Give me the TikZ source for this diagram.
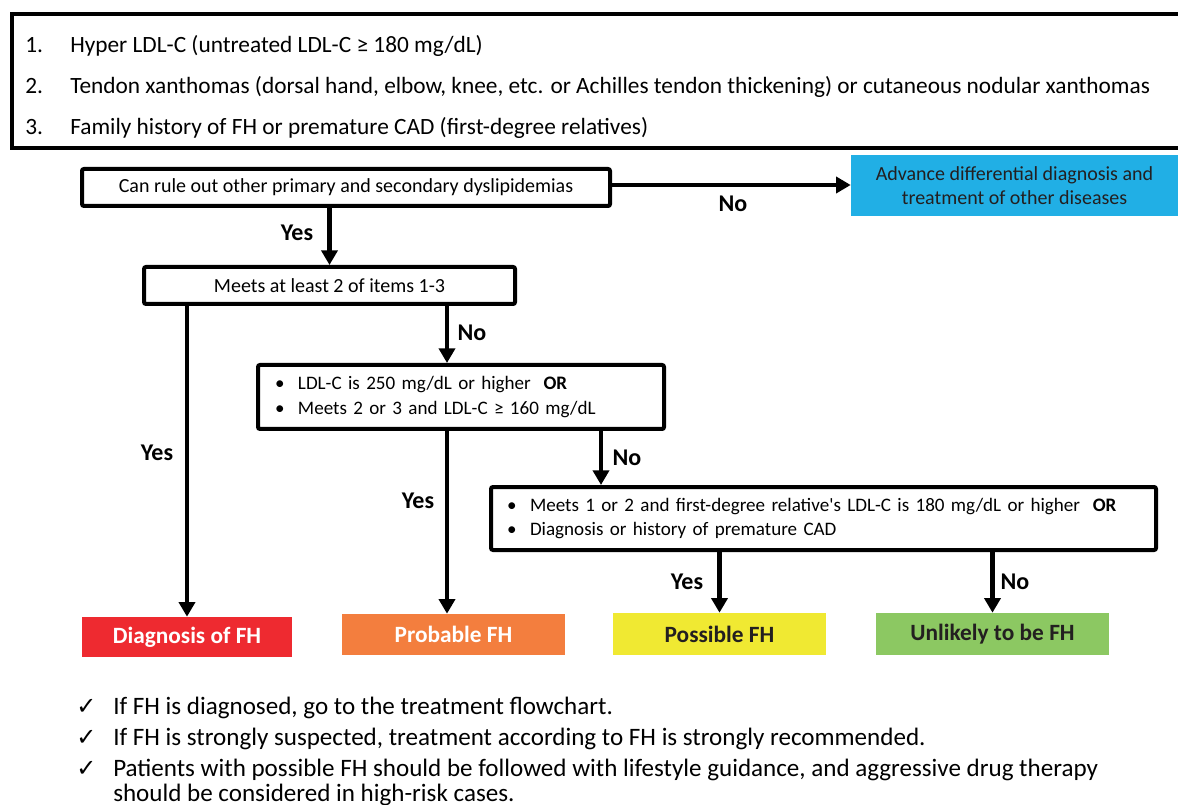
\documentclass[tikz,border=0pt]{standalone}
\usepackage{fontspec}
\setmainfont{Carlito}
\newfontfamily\symfont{DejaVu Sans}
\usetikzlibrary{arrows.meta}
\definecolor{cblue}{HTML}{21AFE5}
\definecolor{cred}{HTML}{EE2A30}
\definecolor{corange}{HTML}{F37E3E}
\definecolor{cyellow}{HTML}{F0E932}
\definecolor{cgreen}{HTML}{8CC862}
\definecolor{cdark}{HTML}{231F20}
\begin{document}
\begin{tikzpicture}[x=0.75pt,y=-0.75pt,
  flowbox/.style={draw,line width=3pt,rounded corners=1.5pt,inner sep=0pt,
    font=\fontsize{15}{18.5}\selectfont},
  listbox/.style={flowbox,font=\fontsize{14.3}{18.5}\selectfont},
  res/.style={inner sep=0pt,font=\fontsize{17.5}{20}\selectfont\bfseries},
  arr/.style={line width=3.6pt,-{Triangle[width=12pt,length=11pt]}},
  lab/.style={font=\fontsize{18}{20}\selectfont\bfseries},
  bigtxt/.style={anchor=base west,inner sep=0pt,font=\fontsize{17.5}{20}\selectfont},
  note/.style={anchor=base west,inner sep=0pt,font=\fontsize{18.8}{22}\selectfont},
  chk/.style={anchor=base west,inner sep=0pt,font=\symfont\fontsize{18}{20}\selectfont},
]
\useasboundingbox (0,0) rectangle (1178,805);
\clip (0,0) rectangle (1178,805);

% criteria box
\draw[line width=3pt] (12,14) rectangle (1200,148);
\node[bigtxt] (n1) at (25,53) {1.};
\node[bigtxt] (t1) at (70,53) {Hyper LDL-C (untreated LDL-C ≥ 180 mg/dL)};
\node[bigtxt] (n2) at (25,94) {2.};
\node[bigtxt] (t2) at (70,94) {Tendon xanthomas (dorsal hand, elbow, knee, etc. or Achilles tendon thickening) or cutaneous nodular xanthomas};
\node[bigtxt] (n3) at (25,135) {3.};
\node[bigtxt] (t3) at (70,135) {Family history of FH or premature CAD (first-degree relatives)};

% flow boxes
\node[flowbox,minimum width=396pt,minimum height=27.75pt] (rule) at (346,187.5)
  {Can rule out other primary and secondary dyslipidemias};
\node[fill=cblue,inner sep=0pt,minimum width=245.25pt,minimum height=45.75pt,align=center,
  text=cdark,font=\fontsize{15}{18}\selectfont] (adv) at (1014.5,185.5)
  {Advance differential diagnosis and\\treatment of other diseases};
\node[flowbox,minimum width=278.25pt,minimum height=27.75pt] (meets) at (329.5,285.5)
  {Meets at least 2 of items 1-3};
\node[listbox,minimum height=48pt,inner xsep=12.75pt,text width=279pt,align=left] (box2) at (461,397)
  {\makebox[17.25pt][l]{•}LDL-C is 250 mg/dL or higher\ \ \textbf{OR}\\
   \makebox[17.25pt][l]{•}Meets 2 or 3 and LDL-C ≥ 160 mg/dL};
\node[listbox,minimum height=47.25pt,inner xsep=12pt,text width=474.75pt,align=left] (box3) at (823.5,518.5)
  {\makebox[17.25pt][l]{•}Meets 1 or 2 and first-degree relative\textquotesingle s LDL-C is 180 mg/dL or higher\ \ \textbf{OR}\\
   \makebox[17.25pt][l]{•}Diagnosis or history of premature CAD};

% results
\node[res,fill=cred,text=white,minimum width=157.5pt,minimum height=30pt] (red) at (187,637) {Diagnosis of FH};
\node[res,fill=corange,text=white,minimum width=167.25pt,minimum height=30.75pt] (orange) at (453.5,634.5) {Probable FH};
\node[res,fill=cyellow,text=cdark,minimum width=159.75pt,minimum height=31.5pt] (yellow) at (719.5,634) {Possible FH};
\node[res,fill=cgreen,text=cdark,minimum width=174.75pt,minimum height=31.5pt] (green) at (992.5,634) {Unlikely to be FH};

% helper coordinates
\coordinate (x447) at (447,0);
\coordinate (x601) at (601,0);
\coordinate (x185) at (0,185);

% connectors
\draw[arr] (rule.east |- x185) -- (adv.west |- x185);
\draw[arr] (meets.north |- rule.south) -- (meets.north);
\draw[arr] (meets.south -| red.north) -- (red.north);
\draw[arr] (meets.south -| x447) -- (box2.north -| x447);
\draw[arr] (box2.south -| x447) -- (orange.north -| x447);
\draw[arr] (box2.south -| x601) -- (box3.north -| x601);
\draw[arr] (box3.south -| yellow.north) -- (yellow.north);
\draw[arr] (box3.south -| green.north) -- (green.north);

% labels
\node[lab] (l1) at (733,204) {No};
\node[lab] (l2) at (297,233) {Yes};
\node[lab] (l3) at (157,453) {Yes};
\node[lab] (l4) at (472,333) {No};
\node[lab] (l5) at (418,501) {Yes};
\node[lab] (l6) at (627,458) {No};
\node[lab] (l7) at (687,582) {Yes};
\node[lab] (l8) at (1015,582) {No};

% notes
\node[chk] (c1) at (76,714) {✓};
\node[note] (s1) at (113,714) {If FH is diagnosed, go to the treatment flowchart.};
\node[chk] (c2) at (76,745) {✓};
\node[note] (s2) at (113,745) {If FH is strongly suspected, treatment according to FH is strongly recommended.};
\node[chk] (c3) at (76,776) {✓};
\node[note] (s3) at (113,776) {Patients with possible FH should be followed with lifestyle guidance, and aggressive drug therapy};
\node[note] (s4) at (113,801) {should be considered in high-risk cases.};
\end{tikzpicture}
\end{document}
